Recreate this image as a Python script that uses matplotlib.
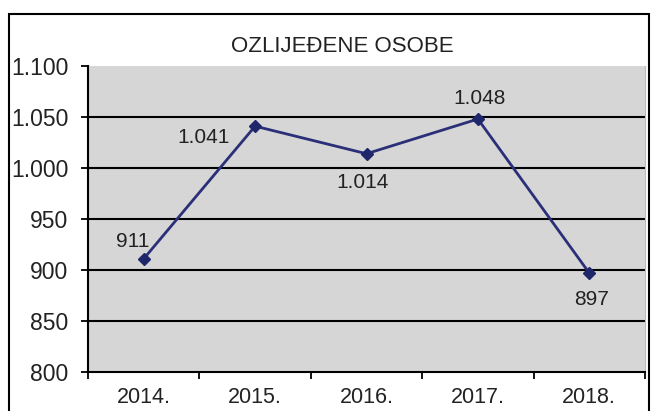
import matplotlib
matplotlib.use('Agg')
import matplotlib.pyplot as plt
import matplotlib.patches as patches
import numpy as np

godine = ['2014.', '2015.', '2016.', '2017.', '2018.']
ozlijedeni = [911, 1041, 1014, 1048, 897]
oznake = ['911', '1.041', '1.014', '1.048', '897']
# pomak natpisa u pikselima (x, y)
pomaci = [(-11, 17), (-52, -11), (-4, -29), (2, 21), (2, -26)]
y_ticks = [800, 850, 900, 950, 1000, 1050, 1100]
y_labels = ['800', '850', '900', '950', '1.000', '1.050', '1.100']

plt.rcParams['font.family'] = ['Liberation Sans', 'DejaVu Sans']

W, H = 651, 411
fig = plt.figure(figsize=(W / 100, H / 100), dpi=100)
fig.patch.set_facecolor('white')

# okvir grafikona
okvir = patches.Rectangle((9 / W, -0.05), (649 - 9) / W, 1.05 - 14 / H,
                          transform=fig.transFigure, fill=False,
                          edgecolor='black', linewidth=1.5, clip_on=False)
fig.patches.append(okvir)

ax = fig.add_axes([88 / W, (H - 372) / H, (645 - 88) / W, (372 - 66) / H])
ax.set_facecolor('#d6d6d6')

x = np.arange(len(godine))
ax.plot(x, ozlijedeni, color='#2b2f78', linewidth=2, marker='D',
        markersize=6.5, markerfacecolor='#1f276b', markeredgecolor='#1f276b',
        zorder=3)

for xi, yi, txt, (dx, dy) in zip(x, ozlijedeni, oznake, pomaci):
    ax.annotate(txt, (xi, yi), xytext=(dx, dy), textcoords='offset pixels',
                ha='center', va='center', fontsize=15, color='#222222')

ax.set_ylim(800, 1100)
ax.set_yticks(y_ticks, y_labels)
ax.set_xlim(-0.5, len(godine) - 0.5)
ax.set_xticks(np.arange(-0.5, len(godine), 1), [''] * (len(godine) + 1))
ax.set_xticks(x, godine, minor=True)
ax.tick_params(axis='x', which='minor', length=0, pad=11, labelsize=15.5, labelcolor='#222222')
ax.tick_params(axis='x', which='major', length=5, width=1.3, direction='out')
ax.tick_params(axis='y', length=5, width=1.3, pad=9, labelsize=16.5, labelcolor='#222222')

for v in y_ticks[1:-1]:
    ax.axhline(v, color='black', linewidth=1.5, zorder=1)

ax.spines['top'].set_visible(False)
ax.spines['right'].set_color('#bbbbbb')
ax.spines['left'].set_linewidth(1.5)
ax.spines['bottom'].set_linewidth(1.5)

fig.text(342 / W, 1 - 46 / H, 'OZLIJEĐENE OSOBE', ha='center', va='center',
         fontsize=16, color='#222222')

fig.savefig('out.png', dpi=100)
